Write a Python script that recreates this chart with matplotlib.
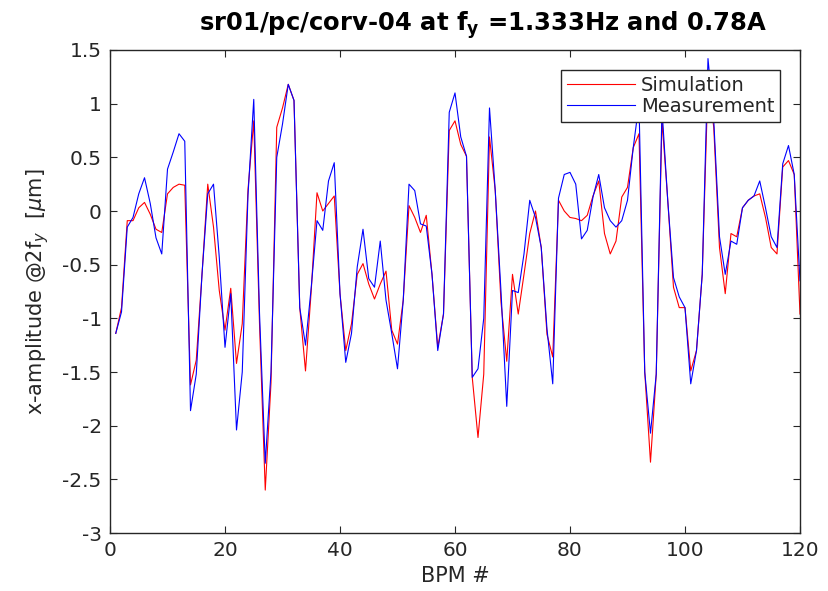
import numpy as np
import matplotlib
matplotlib.use('Agg')
import matplotlib.pyplot as plt

bpm = np.arange(1, 121)

simulation = [
    -1.14, -0.90, -0.09, -0.09, 0.03, 0.08, -0.03, -0.17, -0.20, 0.16,
    0.22, 0.25, 0.24, -1.62, -1.39, -0.59, 0.25, -0.15, -0.74, -1.11,
    -0.72, -1.42, -1.05, 0.20, 0.84, -1.05, -2.60, -1.60, 0.78, 0.96,
    1.18, 1.03, -0.90, -1.49, -0.74, 0.17, 0.00, 0.07, 0.14, -0.77,
    -1.30, -1.05, -0.59, -0.49, -0.68, -0.82, -0.68, -0.56, -1.11, -1.24,
    -0.83, 0.05, -0.06, -0.20, -0.04, -0.59, -1.27, -0.96, 0.75, 0.84,
    0.62, 0.51, -1.55, -2.11, -1.52, 0.69, 0.19, -0.85, -1.40, -0.59,
    -0.96, -0.59, -0.21, 0.00, -0.34, -1.15, -1.36, 0.10, 0.00, -0.06,
    -0.07, -0.09, -0.04, 0.14, 0.28, -0.21, -0.40, -0.28, 0.13, 0.22,
    0.59, 0.72, -1.50, -2.34, -1.52, 0.85, 0.10, -0.71, -0.90, -0.90,
    -1.49, -1.30, -0.59, 1.20, 0.78, -0.34, -0.77, -0.21, -0.24, 0.03,
    0.10, 0.14, 0.16, -0.06, -0.34, -0.40, 0.41, 0.47, 0.34, -0.96,
]

measurement = [
    -1.14, -0.94, -0.15, -0.06, 0.16, 0.31, 0.07, -0.25, -0.40, 0.39,
    0.55, 0.72, 0.65, -1.86, -1.52, -0.59, 0.16, 0.25, -0.43, -1.27,
    -0.77, -2.04, -1.50, 0.15, 1.04, -0.95, -2.35, -1.50, 0.50, 0.81,
    1.18, 1.03, -0.90, -1.25, -0.71, -0.09, -0.18, 0.28, 0.45, -0.77,
    -1.41, -1.14, -0.52, -0.17, -0.63, -0.71, -0.28, -0.83, -1.14, -1.47,
    -0.83, 0.25, 0.19, -0.12, -0.14, -0.59, -1.30, -0.96, 0.92, 1.10,
    0.69, 0.51, -1.55, -1.47, -1.00, 0.96, 0.19, -0.75, -1.82, -0.74,
    -0.76, -0.40, 0.10, -0.06, -0.34, -1.10, -1.61, 0.12, 0.34, 0.36,
    0.25, -0.26, -0.18, 0.13, 0.34, 0.03, -0.09, -0.15, -0.09, 0.10,
    0.59, 1.00, -1.50, -2.07, -1.52, 0.95, 0.10, -0.62, -0.80, -0.90,
    -1.61, -1.30, -0.59, 1.42, 0.85, -0.24, -0.59, -0.28, -0.31, 0.03,
    0.10, 0.14, 0.28, 0.03, -0.24, -0.34, 0.44, 0.61, 0.34, -0.65,
]

xticks = [0, 20, 40, 60, 80, 100, 120]
yticks = [-3, -2.5, -2, -1.5, -1, -0.5, 0, 0.5, 1, 1.5]
ytick_labels = ['-3', '-2.5', '-2', '-1.5', '-1', '-0.5', '0', '0.5', '1', '1.5']

dark = '#262626'
plt.rcParams['font.family'] = 'DejaVu Sans'
plt.rcParams['mathtext.fontset'] = 'dejavusans'

fig = plt.figure(figsize=(8.29, 5.91), dpi=100)
ax = fig.add_axes([0.1327, 0.0981, 0.8323, 0.8173])

ax.plot(bpm, simulation, color='red', lw=0.8, label='Simulation')
ax.plot(bpm, measurement, color='blue', lw=0.8, label='Measurement')

ax.set_xlim(0, 120)
ax.set_ylim(-3, 1.5)
ax.set_xticks(xticks)
ax.set_yticks(yticks)
ax.set_yticklabels(ytick_labels)
ax.tick_params(direction='in', length=5, width=0.8, colors=dark,
               labelsize=14.5, top=True, right=True, pad=6)
for s in ax.spines.values():
    s.set_color(dark)
    s.set_linewidth(1.0)

ax.set_xlabel('BPM #', fontsize=15, color=dark, labelpad=4)
ax.set_ylabel(r'x-amplitude @2f$_y$  [$\mu$m]', fontsize=15, color=dark, labelpad=8)
ax.set_title(r'sr01/pc/corv-04 at f$_\mathbf{y}$ =1.333Hz and 0.78A',
             fontsize=17.5, fontweight='bold', color='black', x=0.54, pad=14)

leg = ax.legend(loc='upper right', bbox_to_anchor=(0.971, 0.959), borderaxespad=0,
                fontsize=14, frameon=True, fancybox=False, framealpha=1,
                edgecolor=dark, handlelength=3.5, handletextpad=0.3,
                borderpad=0.3, labelspacing=0.12)
leg.get_frame().set_linewidth(1.0)
for t in leg.get_texts():
    t.set_color(dark)

fig.savefig('out.png', dpi=100)
